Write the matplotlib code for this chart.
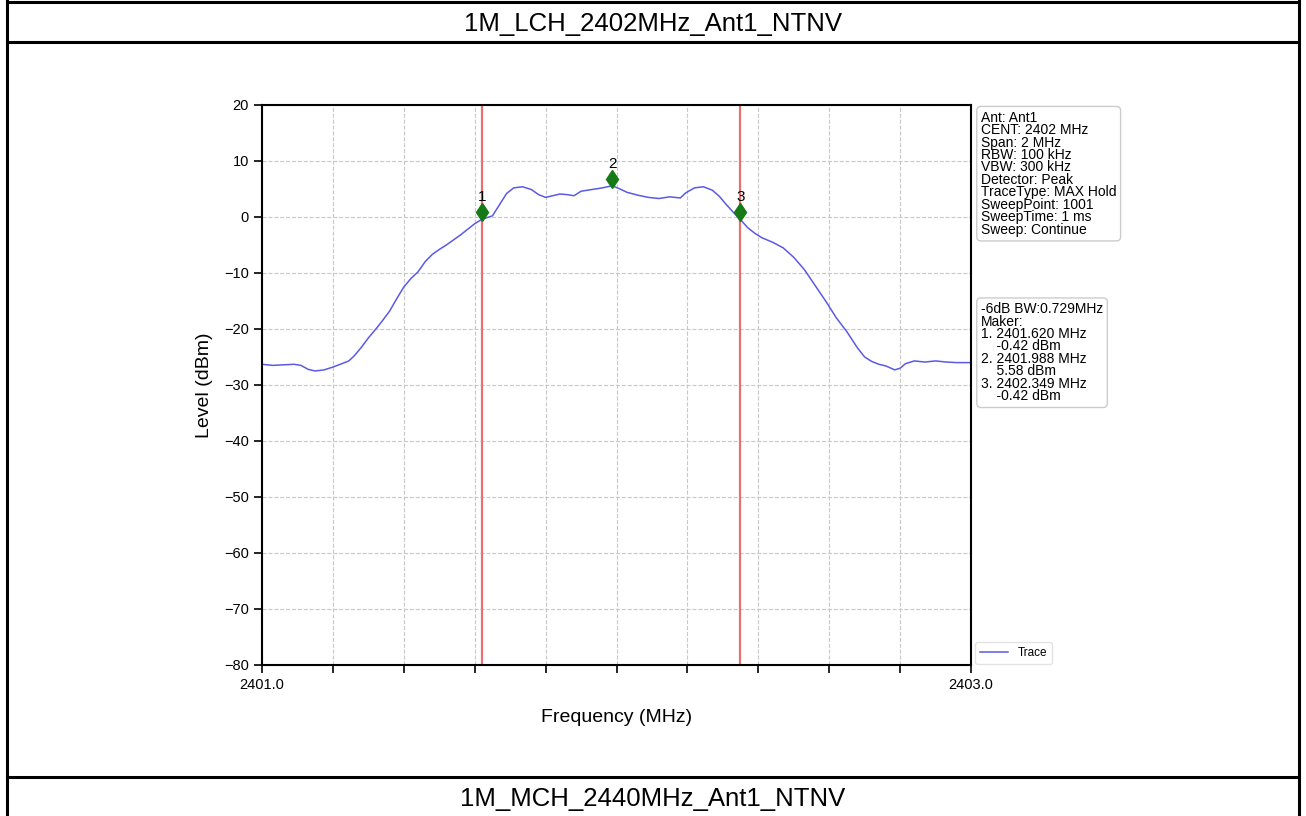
import numpy as np
import matplotlib
matplotlib.use("Agg")
import matplotlib.pyplot as plt
from matplotlib.lines import Line2D
import matplotlib.transforms as mtransforms

plt.rcParams['font.family'] = ['Liberation Sans', 'DejaVu Sans']

# trace (MHz, dBm)
freq = [2401.000, 2401.030, 2401.060, 2401.090, 2401.110, 2401.130, 2401.150,
        2401.175, 2401.200, 2401.225, 2401.245, 2401.260, 2401.280, 2401.300,
        2401.320, 2401.340, 2401.360, 2401.380, 2401.400, 2401.420, 2401.440,
        2401.460, 2401.480, 2401.500, 2401.520, 2401.540, 2401.560, 2401.580,
        2401.600, 2401.620, 2401.640, 2401.650, 2401.670, 2401.690, 2401.710,
        2401.735, 2401.760, 2401.780, 2401.800, 2401.820, 2401.840, 2401.860,
        2401.880, 2401.900, 2401.920, 2401.940, 2401.960, 2401.988, 2402.010,
        2402.030, 2402.060, 2402.090, 2402.120, 2402.150, 2402.180, 2402.195,
        2402.220, 2402.245, 2402.270, 2402.290, 2402.310, 2402.330, 2402.349,
        2402.370, 2402.390, 2402.410, 2402.440, 2402.470, 2402.500, 2402.530,
        2402.560, 2402.590, 2402.620, 2402.650, 2402.680, 2402.700, 2402.720,
        2402.740, 2402.760, 2402.785, 2402.800, 2402.815, 2402.840, 2402.870,
        2402.900, 2402.930, 2402.960, 2403.000]
level = [-26.3, -26.5, -26.4, -26.3, -26.5, -27.2, -27.5,
         -27.3, -26.8, -26.2, -25.7, -24.8, -23.3, -21.6,
         -20.1, -18.5, -16.8, -14.6, -12.5, -11.0, -9.8,
         -8.0, -6.7, -5.8, -5.0, -4.1, -3.2, -2.2,
         -1.2, -0.42, 0.0, 0.2, 2.2, 4.2, 5.2,
         5.4, 4.9, 4.0, 3.5, 3.8, 4.1, 4.0,
         3.8, 4.6, 4.8, 5.0, 5.2, 5.58, 5.0,
         4.4, 3.9, 3.5, 3.3, 3.6, 3.4, 4.3,
         5.2, 5.4, 4.8, 3.7, 2.2, 0.8, -0.42,
         -1.9, -2.9, -3.7, -4.5, -5.5, -7.2, -9.4,
         -12.2, -15.0, -18.0, -20.5, -23.4, -25.0, -25.8,
         -26.3, -26.6, -27.3, -27.0, -26.2, -25.7, -25.9,
         -25.7, -25.9, -26.0, -26.0]

mk_freq = [2401.620, 2401.988, 2402.349]
mk_level = [-0.42, 5.58, -0.42]
mk_name = ['1', '2', '3']
bw_6db = 0.729

info = ["Ant: Ant1", "CENT: 2402 MHz", "Span: 2 MHz", "RBW: 100 kHz",
        "VBW: 300 kHz", "Detector: Peak", "TraceType: MAX Hold",
        "SweepPoint: 1001", "SweepTime: 1 ms", "Sweep: Continue"]

title_top = "1M_LCH_2402MHz_Ant1_NTNV"
title_bottom = "1M_MCH_2440MHz_Ant1_NTNV"

W, H = 1306, 816
fig = plt.figure(figsize=(W / 100, H / 100), dpi=100)

# table frame around the plot
frame = fig.add_axes([0, 0, 1, 1])
frame.set_xlim(0, W)
frame.set_ylim(H, 0)
frame.axis('off')
for yy in [2, 42, 777]:
    frame.add_line(Line2D([7, 1299], [yy, yy], color='black', lw=2.2))
for xx in [7, 1299]:
    frame.add_line(Line2D([xx, xx], [0, H], color='black', lw=2.2))
frame.text(W / 2, 24, title_top, ha='center', va='center', fontsize=18.5)
frame.text(W / 2, 799, title_bottom, ha='center', va='center', fontsize=18.5)

ax = fig.add_axes([262 / W, 1 - 665 / H, (971 - 262) / W, (665 - 105) / H])
ax.plot(freq, level, color='#5a5ae6', lw=1.1, label='Trace')
for f in [mk_freq[0], mk_freq[2]]:
    ax.axvline(f, color='#e87070', lw=1.6)

up = mtransforms.offset_copy(ax.transData, fig=fig, y=5, units='points')
ax.plot(mk_freq, mk_level, 'd', color='#157a15', ms=9.5, transform=up)
for f, v, n in zip(mk_freq, mk_level, mk_name):
    ax.annotate(n, (f, v), xytext=(0, 16), textcoords='offset points',
                ha='center', va='center', fontsize=11)

ax.set_xlim(2401.0, 2403.0)
ax.set_ylim(-80, 20)
xt = np.linspace(2401.0, 2403.0, 11)
ax.set_xticks(xt)
ax.set_xticklabels(['2401.0'] + [''] * 9 + ['2403.0'])
ax.set_yticks(np.arange(-80, 21, 10))
ax.tick_params(labelsize=10.5, length=6, width=1.2, direction='out')
ax.grid(True, ls='--', color='#c8c8c8', lw=0.8)
for s in ax.spines.values():
    s.set_linewidth(1.5)
ax.set_xlabel('Frequency (MHz)', fontsize=14, labelpad=12)
ax.set_ylabel('Level (dBm)', fontsize=14, labelpad=8)

box = dict(boxstyle='round,pad=0.3', fc='white', ec='#cccccc', lw=1)
ax.text(1.014, 0.990, "\n".join(info), transform=ax.transAxes, ha='left',
        va='top', fontsize=10, linespacing=0.86, bbox=box)
mk_lines = ["-6dB BW:%.3fMHz" % bw_6db, "Maker:"]
for i, (f, v) in enumerate(zip(mk_freq, mk_level)):
    mk_lines.append("%d. %.3f MHz" % (i + 1, f))
    mk_lines.append("    %.2f dBm" % v)
ax.text(1.014, 0.648, "\n".join(mk_lines), transform=ax.transAxes, ha='left',
        va='top', fontsize=10, linespacing=0.86, bbox=box)

ax.legend(loc='lower left', bbox_to_anchor=(1.006, 0.002), fontsize=8.5,
          handlelength=2.4, borderaxespad=0, frameon=True, edgecolor='#dddddd')

fig.savefig('out.png', dpi=100)
